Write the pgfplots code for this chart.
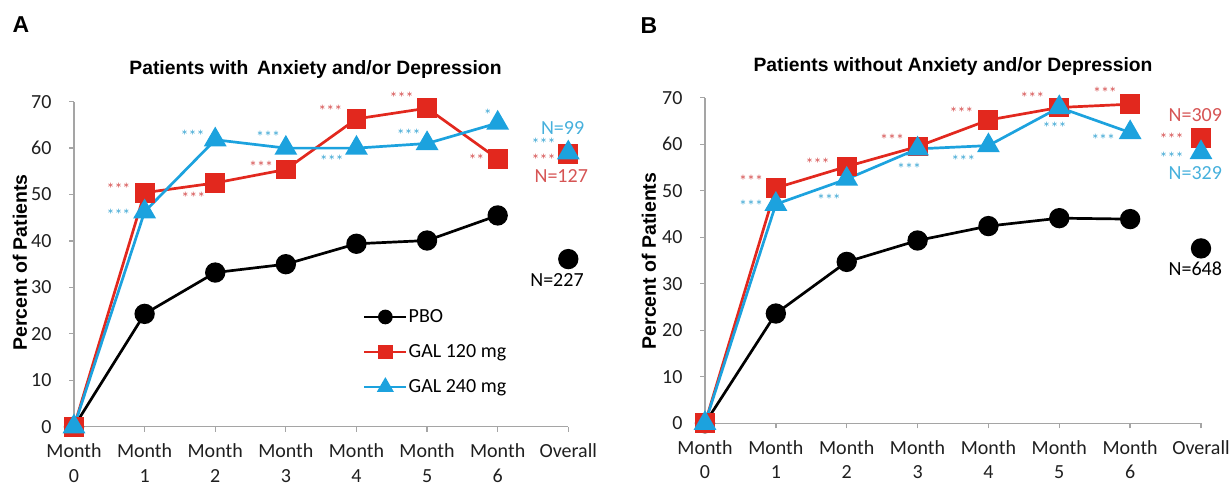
\documentclass[border=0pt]{standalone}
\usepackage{pgfplots}
\pgfplotsset{compat=1.18}
\usepackage{fontspec}
\setmainfont{Carlito}
\newfontfamily\arialb[BoldFont={Liberation Sans Bold}]{Liberation Sans}
\definecolor{cred}{RGB}{226,40,30}
\definecolor{cblue}{RGB}{28,162,222}
\definecolor{sred}{RGB}{214,84,84}
\definecolor{sblue}{RGB}{64,168,212}
\definecolor{nblue}{RGB}{70,176,220}
\definecolor{axgray}{RGB}{165,165,165}
\newcommand{\fs}[1]{\fontsize{#1}{#1}\selectfont}

\tikzset{
  sr/.style={sred, font=\fs{16}, inner sep=0pt, yshift=-3pt},
  sb/.style={sblue, font=\fs{16}, inner sep=0pt, yshift=-3pt},
  nl/.style={font=\fs{20}, inner sep=0pt},
}
\pgfplotsset{
  panel/.style={
    scale only axis, anchor=south west,
    xmin=0, xmax=7, ymin=0, ymax=70, clip=false,
    axis lines=left, axis line style={-, axgray, line width=1.3pt},
    tick style={axgray, line width=1.3pt}, tick align=outside, major tick length=5pt,
    xtick={0,...,7},
    xticklabels={{Month\\0},{Month\\1},{Month\\2},{Month\\3},{Month\\4},{Month\\5},{Month\\6},{Overall}},
    xticklabel style={align=center, font=\fontsize{20}{24.5}\selectfont, text=black!88, yshift=-8.5pt},
    ytick={0,10,...,70},
    yticklabel style={font=\fs{20}, text=black!88, xshift=-14pt},
    /pgf/number format/assume math mode=true,
    legend image code/.code={\draw[mark repeat=2,mark phase=2,#1, every mark/.append style={scale=0.68}] plot coordinates {(0pt,0pt)(21pt,0pt)(42pt,0pt)};},
  },
  pbo/.style={black, line width=2.7pt, mark=*, mark size=8.8pt, mark options={solid, fill=black}},
  g120/.style={cred, line width=2.7pt, mark=square*, mark size=8.6pt, mark options={solid, fill=cred}},
  g240/.style={cblue, line width=2.7pt, mark=triangle*, mark size=10.5pt, mark options={solid, fill=cblue}},
}

\begin{document}
\begin{tikzpicture}
\useasboundingbox (0,0) rectangle (1231pt,486pt);

% ---------------- Panel A ----------------
\begin{axis}[panel, at={(74pt,59.3pt)}, width=494.3pt, height=325pt,
  legend style={draw=none, fill=none, inner sep=0pt, at={(axis cs:4.09,25.45)}, anchor=north west,
    font=\fs{20}, row sep=18.5pt, nodes={inner sep=1pt}, legend cell align=left}]
\addplot[pbo] coordinates {(0,0)(1,24.3)(2,33.2)(3,35)(4,39.4)(5,40.1)(6,45.5)};
\addlegendentry{PBO}
\addplot[g120] coordinates {(0,0)(1,50.4)(2,52.5)(3,55.4)(4,66.3)(5,68.6)(6,57.7)};
\addlegendentry{GAL 120 mg}
\addplot[g240] coordinates {(0,0)(1,46.3)(2,61.8)(3,60)(4,60)(5,61)(6,65.4)};
\addlegendentry{GAL 240 mg}
\addplot[pbo, only marks, forget plot] coordinates {(7,36.1)};
\addplot[g120, only marks, forget plot] coordinates {(7,58.7)};
\addplot[g240, only marks, forget plot] coordinates {(7,59.0)};
\node[sr] at (axis cs:0.63,51.8) {***};
\node[sb] at (axis cs:0.63,46.3) {***};
\node[sb] at (axis cs:1.68,63.3) {***};
\node[sr] at (axis cs:1.69,50.0) {***};
\node[sb] at (axis cs:2.75,63.0) {***};
\node[sr] at (axis cs:2.65,56.7) {***};
\node[sr] at (axis cs:3.63,68.6) {***};
\node[sb] at (axis cs:3.65,58.0) {***};
\node[sr] at (axis cs:4.64,71.4) {***};
\node[sb] at (axis cs:4.74,63.5) {***};
\node[sb] at (axis cs:5.86,67.9) {*};
\node[sr] at (axis cs:5.70,58.1) {**};
\node[sb] at (axis cs:6.65,61.6) {***};
\node[sr] at (axis cs:6.65,58.1) {***};
\node[nl, nblue] at (axis cs:6.92,64.3) {N=99};
\node[nl, sred] at (axis cs:6.90,53.9) {N=127};
\node[nl, black] at (axis cs:6.84,31.6) {N=227};
\end{axis}

% ---------------- Panel B ----------------
\begin{axis}[panel, at={(705pt,62.7pt)}, width=496pt, height=325.6pt]
\addplot[pbo] coordinates {(0,0)(1,23.6)(2,34.7)(3,39.3)(4,42.4)(5,44.1)(6,43.9)};
\addplot[g120] coordinates {(0,0)(1,50.6)(2,55.2)(3,59.5)(4,65.2)(5,67.9)(6,68.6)};
\addplot[g240] coordinates {(0,0)(1,47.1)(2,52.5)(3,59.0)(4,59.7)(5,67.9)(6,62.5)};
\addplot[pbo, only marks] coordinates {(7,37.6)};
\addplot[g120, only marks] coordinates {(7,61.4)};
\addplot[g240, only marks] coordinates {(7,58.2)};
\node[sr] at (axis cs:0.65,52.7) {***};
\node[sb] at (axis cs:0.65,47.3) {***};
\node[sr] at (axis cs:1.59,56.4) {***};
\node[sb] at (axis cs:1.75,48.6) {***};
\node[sr] at (axis cs:2.64,61.6) {***};
\node[sb] at (axis cs:2.88,55.4) {***};
\node[sr] at (axis cs:3.62,67.5) {***};
\node[sb] at (axis cs:3.645,57.0) {***};
\node[sr] at (axis cs:4.62,70.6) {***};
\node[sb] at (axis cs:4.935,64.1) {***};
\node[sr] at (axis cs:5.645,71.7) {***};
\node[sb] at (axis cs:5.62,61.6) {***};
\node[sr] at (axis cs:6.585,61.8) {***};
\node[sb] at (axis cs:6.585,57.8) {***};
\node[nl, sred] at (axis cs:6.92,66.3) {N=309};
\node[nl, nblue] at (axis cs:6.92,53.75) {N=329};
\node[nl, black] at (axis cs:6.92,33.3) {N=648};
\end{axis}

% titles, labels, panel letters
\node[font=\arialb\bfseries\fs{19.3}] at (315.5pt,416pt) {Patients with\, Anxiety and/or Depression};
\node[font=\arialb\bfseries\fs{19.3}] at (953pt,419pt) {Patients without Anxiety and/or Depression};
\node[font=\arialb\bfseries\fs{19.5}, rotate=90] at (20pt,223.5pt) {Percent of Patients};
\node[font=\arialb\bfseries\fs{19.5}, rotate=90] at (649pt,225pt) {Percent of Patients};
\node[font=\arialb\bfseries\fs{23}] at (21pt,461pt) {A};
\node[font=\arialb\bfseries\fs{23}] at (649pt,460.5pt) {B};
\end{tikzpicture}
\end{document}
